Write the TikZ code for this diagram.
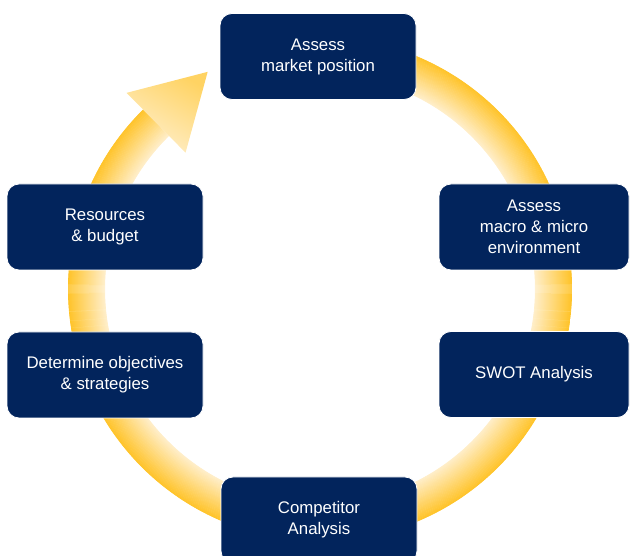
\documentclass[tikz,border=0pt]{standalone}
\usepackage{fontspec}
\setmainfont{Liberation Sans}
\usetikzlibrary{calc}
\definecolor{navy}{HTML}{02245C}
\definecolor{ydeep}{HTML}{FFC42A}
\definecolor{ylight}{HTML}{FFEFCC}
\tikzset{
  stepbox/.style={rounded corners=12pt, fill=navy, draw=white, line width=0.8pt,
    text=white, align=center, inner sep=0pt,
    font=\fontsize{16.8}{21}\selectfont},
  wide/.style={minimum width=196pt, minimum height=86pt},
  narrow/.style={minimum width=190pt, minimum height=86pt}
}
\begin{document}
\begin{tikzpicture}[x=1pt,y=1pt]
\useasboundingbox (0,0) rectangle (630,556);
\coordinate (C) at (320,267);
% ring
\begin{scope}
  \clip ($(C)+(100:252)$) arc[start angle=100, end angle=-225.4, radius=252]
        -- ($(C)+(134.6:215)$) arc[start angle=134.6, end angle=460, radius=215] -- cycle;
  \foreach \i in {0,...,37}{
    \pgfmathsetmacro{\p}{\i/37*100}
    \draw[line width=1.4pt, color=ydeep!\p!ylight] (C) circle[radius=215+\i];
  }
\end{scope}
% arrow head
\coordinate (ho) at ($(C)+(134.6:275.5)$);
\coordinate (hi) at ($(C)+(134.6:191.5)$);
\coordinate (hm) at ($(C)+(134.6:233.5)$);
\coordinate (tip) at ($(hm)+(44.6:72.5)$);
\shade[left color=ydeep!65!ylight, right color=ylight, shading angle=-30] (ho) -- (tip) -- (hi) -- cycle;
% boxes
\node[stepbox, wide] (top) at (318,499.5) {Assess\\market position};
\node[stepbox, narrow] (r1) at (534,329) {Assess\\macro \& micro\\environment};
\node[stepbox, narrow] (r2) at (534,181.5) {SWOT Analysis};
\node[stepbox, wide] (bot) at (319,36) {Competitor\\Analysis};
\node[stepbox, wide] (l2) at (105,181) {Determine objectives\\\& strategies};
\node[stepbox, wide] (l1) at (105,329) {Resources\\\& budget};
\end{tikzpicture}
\end{document}
